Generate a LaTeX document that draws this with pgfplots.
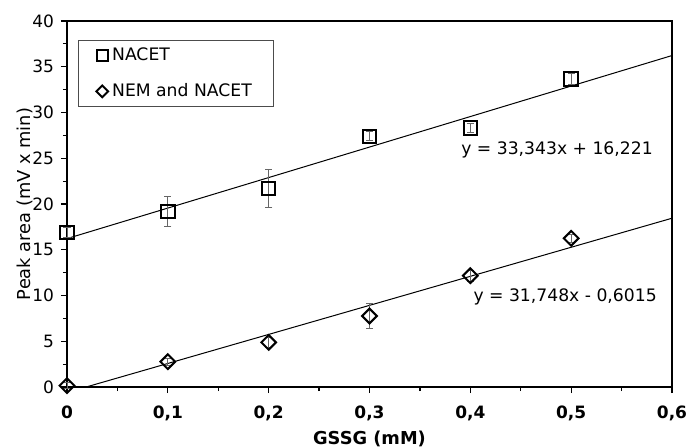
\documentclass[border=0pt]{standalone}
\usepackage{pgfplots}
\pgfplotsset{compat=1.18}
\usepackage{fontspec}
\setmainfont{DejaVu Sans}
\begin{document}
\begin{tikzpicture}
\useasboundingbox (-33.5pt,-30pt) rectangle (309.5pt,193.5pt);
\begin{axis}[
  at={(0,0)}, anchor=south west,
  scale only axis, width=302.5pt, height=183pt,
  xmin=0, xmax=0.6, ymin=0, ymax=40,
  xtick={0,0.1,0.2,0.3,0.4,0.5,0.6},
  minor xtick={0.05,0.15,0.25,0.35,0.45,0.55},
  ytick={0,5,10,15,20,25,30,35,40},
  minor ytick={2.5,7.5,12.5,17.5,22.5,27.5,32.5,37.5},
  tick align=outside, tick pos=left,
  major tick length=3pt, minor tick length=2pt,
  every tick/.style={black, line width=0.6pt},
  axis line style={line width=0.9pt},
  /pgf/number format/assume math mode=true,
  /pgf/number format/use comma,
  xticklabel style={font=\fontsize{8.5}{10}\selectfont\bfseries, /pgf/number format/fixed, /pgf/number format/precision=1, yshift=-3pt},
  yticklabel style={font=\fontsize{8.5}{10}\selectfont},
  xlabel={\textbf{GSSG (mM)}},
  ylabel={Peak area (mV x min)},
  label style={font=\fontsize{8.9}{10}\selectfont},
  xlabel style={yshift=2pt},
  ylabel style={yshift=-7pt},
  legend cell align=left,
  legend style={at={(0.018,0.948)}, anchor=north west, draw=black!70, line width=0.5pt,
    font=\fontsize{8.6}{10}\selectfont, inner xsep=9pt, inner ysep=1.5pt, row sep=6pt,
    /tikz/every even column/.append style={column sep=0pt}},
  legend image code/.code={\draw[#1, /tikz/every mark/.append style={scale=0.8}] plot coordinates {(0pt,0pt)};},
  clip=false,
]
% fitted lines (endpoints of the regression lines)
\addplot[black, line width=0.5pt, forget plot] coordinates {(0,16.221) (0.6,36.227)};
\addplot[black, line width=0.5pt, forget plot] coordinates {(0.01895,0) (0.6,18.447)};
% NACET
\addplot[only marks, mark=square, mark size=3.4pt, black, line width=1pt,
  error bars/.cd, y dir=both, y explicit,
  error bar style={black!60, line width=0.4pt},
  error mark options={rotate=90, mark size=1.8pt, black!60, line width=0.4pt}]
  table[x=x, y=y, y error=e] {
x y e
0 16.9 0.5
0.1 19.2 1.6
0.2 21.7 2.1
0.3 27.4 0.5
0.4 28.34 0.5
0.5 33.66 0.6
};
\addlegendentry{NACET}
% NEM and NACET
\addplot[only marks, mark=square, mark size=2.6pt, mark options={rotate=45}, black, line width=1pt,
  error bars/.cd, y dir=both, y explicit,
  error bar style={black!60, line width=0.4pt},
  error mark options={rotate=90, mark size=1.8pt, black!60, line width=0.4pt}]
  table[x=x, y=y, y error=e] {
x y e
0 0.15 0.3
0.1 2.77 0.4
0.2 4.88 0.5
0.3 7.76 1.4
0.4 12.17 0.6
0.5 16.25 0.4
};
\addlegendentry{NEM and NACET}
\node[font=\fontsize{8.6}{10}\selectfont] at (axis cs:0.486,25.9) {y = 33,343x + 16,221};
\node[font=\fontsize{8.6}{10}\selectfont] at (axis cs:0.494,9.8) {y = 31,748x - 0,6015};
\end{axis}
\end{tikzpicture}
\end{document}
